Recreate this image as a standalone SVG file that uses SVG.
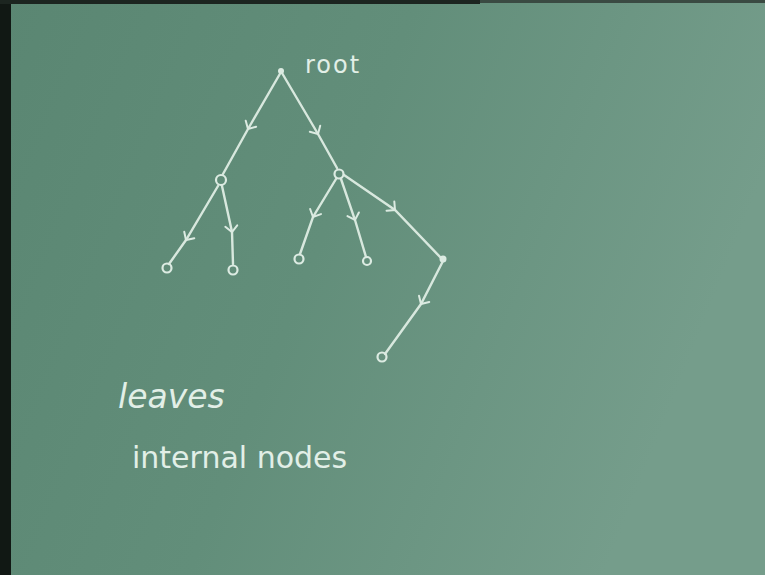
<svg xmlns="http://www.w3.org/2000/svg" width="765" height="575" viewBox="0 0 765 575">
<defs>
<linearGradient id="board" x1="0" y1="0" x2="1" y2="0.3">
<stop offset="0" stop-color="#5a8672"/>
<stop offset="0.5" stop-color="#628e7a"/>
<stop offset="1" stop-color="#759d8b"/>
</linearGradient>
<marker id="chev" viewBox="-8 -8 16 16" markerWidth="16" markerHeight="16" markerUnits="userSpaceOnUse" refX="0" refY="0" orient="auto">
<path d="M-6,-6 L0,0 L-6,6" fill="none" stroke="#dcebe2" stroke-width="2" stroke-linecap="round"/>
</marker>
<style>
.edge{fill:none;stroke:#d8e8de;stroke-width:2.4;stroke-linecap:round;marker-mid:url(#chev)}
.node{fill:none;stroke:#dcebe2;stroke-width:2.2}
.dot{fill:#dcebe2}
.chalk{fill:#e2efe7;font-family:"DejaVu Sans","Liberation Sans",sans-serif}
</style>
</defs>
<rect width="765" height="575" fill="url(#board)"/>
<rect x="0" y="0" width="11" height="575" fill="#111814"/>
<rect x="0" y="0" width="480" height="4" fill="#1c2520"/>
<rect x="480" y="0" width="285" height="3" fill="#3a4a42"/>
<g id="connectors">
<path class="edge" d="M281,72 L248,129 L223,174"/>
<path class="edge" d="M282,73 L318,134 L337,168"/>
<path class="edge" d="M218,186 L186,240 L169,264"/>
<path class="edge" d="M222,186 L232,232 L233,264"/>
<path class="edge" d="M336,179 L313,217 L300,254"/>
<path class="edge" d="M341,179 L355,220 L366,257"/>
<path class="edge" d="M344,175 L395,210 L442,259"/>
<path class="edge" d="M443,261 L421,304 L385,354"/>
</g>
<g id="root"><circle class="dot" cx="281" cy="71" r="3"/><text class="chalk" x="305" y="73" font-size="24" letter-spacing="2">root</text></g>
<g id="nodeA"><circle class="node" cx="221" cy="180" r="5"/></g>
<g id="nodeB"><circle class="node" cx="339" cy="174" r="4.5"/></g>
<g id="leaf1"><circle class="node" cx="167" cy="268" r="4.5"/></g>
<g id="leaf2"><circle class="node" cx="233" cy="270" r="4.5"/></g>
<g id="leaf3"><circle class="node" cx="299" cy="259" r="4.5"/></g>
<g id="leaf4"><circle class="node" cx="367" cy="261" r="4"/></g>
<g id="nodeC"><circle class="dot" cx="443" cy="259" r="3.5"/></g>
<g id="leaf5"><circle class="node" cx="382" cy="357" r="4.5"/></g>
<g id="labels">
<text class="chalk" x="118" y="408" font-size="33" font-style="italic">leaves</text>
<text class="chalk" x="132" y="468" font-size="30">internal nodes</text>
</g>
</svg>
